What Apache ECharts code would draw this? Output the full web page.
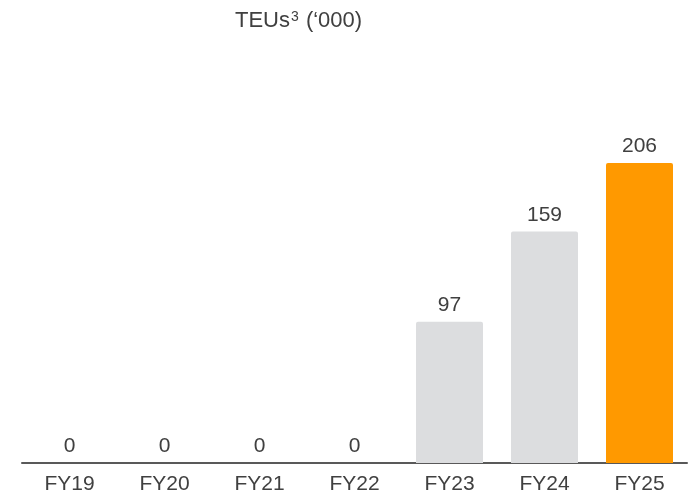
<!DOCTYPE html>
<html>
<head>
<meta charset="utf-8">
<script src="https://cdn.jsdelivr.net/npm/echarts@6/dist/echarts.min.js"></script>
<style>
  html, body { margin: 0; padding: 0; background: #fff; }
  #chart { width: 695px; height: 497px; }
</style>
</head>
<body>
<div id="chart"></div>
<script>
var years = ['FY19', 'FY20', 'FY21', 'FY22', 'FY23', 'FY24', 'FY25'];
var teus = [0, 0, 0, 0, 97, 159, 206];
var barColors = ['#dcdddf', '#dcdddf', '#dcdddf', '#dcdddf', '#dcdddf', '#dcdddf', '#ff9900'];

var chart = echarts.init(document.getElementById('chart'));
var font = 'Liberation Sans, Arial, sans-serif';

chart.setOption({
  animation: false,
  title: {
    text: 'TEUs{sup|3} (‘000)',
    left: 230,
    top: 5,
    textStyle: {
      fontFamily: font,
      fontSize: 22,
      fontWeight: 'normal',
      color: '#404040',
      rich: {
        sup: {
          fontFamily: font,
          fontSize: 14,
          color: '#404040',
          verticalAlign: 'top',
          padding: [0, 1, 0, 1]
        }
      }
    }
  },
  grid: {
    left: 22,
    right: 8,
    top: 163,
    bottom: 34
  },
  xAxis: {
    type: 'category',
    data: years,
    axisLine: { lineStyle: { color: '#595959', width: 2 } },
    axisTick: { show: false },
    axisLabel: {
      fontFamily: font,
      fontSize: 21,
      color: '#404040',
      margin: 11
    }
  },
  yAxis: {
    type: 'value',
    min: 0,
    max: 206,
    show: false
  },
  series: [{
    type: 'bar',
    barWidth: 67,
    data: teus.map(function(v, i) {
      return { value: v, itemStyle: { color: barColors[i], borderRadius: [2, 2, 0, 0] } };
    }),
    label: {
      show: true,
      position: 'top',
      distance: 6,
      fontFamily: font,
      fontSize: 21,
      color: '#404040'
    }
  }]
});
</script>
</body>
</html>
